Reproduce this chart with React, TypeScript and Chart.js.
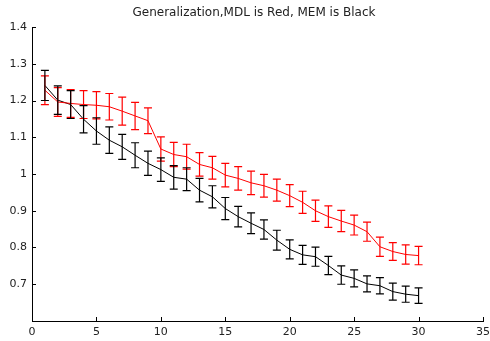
import React, { useEffect, useRef } from "react";
import { Chart, registerables } from "chart.js";

Chart.register(...registerables);

const titleText = "Generalization,MDL is Red, MEM is Black";

const iterations = [1, 2, 3, 4, 5, 6, 7, 8, 9, 10, 11, 12, 13, 14, 15, 16, 17, 18, 19, 20, 21, 22, 23, 24, 25, 26, 27, 28, 29, 30];

const mdlMean = [1.228, 1.196, 1.192, 1.189, 1.187, 1.183, 1.171, 1.158, 1.145, 1.068, 1.053, 1.047, 1.026, 1.017, 0.997, 0.988, 0.976, 0.968, 0.956, 0.941, 0.923, 0.9, 0.884, 0.872, 0.861, 0.843, 0.802, 0.789, 0.781, 0.778];
const mdlErr = [0.039, 0.039, 0.038, 0.038, 0.037, 0.036, 0.038, 0.037, 0.035, 0.033, 0.033, 0.034, 0.032, 0.031, 0.032, 0.032, 0.032, 0.031, 0.03, 0.03, 0.03, 0.029, 0.029, 0.029, 0.027, 0.026, 0.026, 0.024, 0.026, 0.025];

const memMean = [1.241, 1.201, 1.189, 1.149, 1.117, 1.092, 1.074, 1.051, 1.029, 1.012, 0.991, 0.986, 0.956, 0.938, 0.906, 0.884, 0.866, 0.849, 0.82, 0.795, 0.78, 0.775, 0.751, 0.725, 0.716, 0.701, 0.696, 0.68, 0.673, 0.669];
const memErr = [0.041, 0.039, 0.038, 0.037, 0.036, 0.036, 0.034, 0.034, 0.033, 0.032, 0.032, 0.031, 0.032, 0.03, 0.03, 0.028, 0.028, 0.026, 0.027, 0.026, 0.026, 0.026, 0.025, 0.025, 0.023, 0.022, 0.022, 0.023, 0.022, 0.021];

const xTicks = [0, 5, 10, 15, 20, 25, 30, 35];
const yTicks = [0.6, 0.7, 0.8, 0.9, 1.0, 1.1, 1.2, 1.3, 1.4];
const yLabelled = [0.7, 0.8, 0.9, 1.0, 1.1, 1.2, 1.3, 1.4];

const FONT = "'DejaVu Sans', 'Liberation Sans', Arial, sans-serif";

const errorBarPlugin = {
  id: "errorBars",
  afterDatasetsDraw(chart: any) {
    const ctx = chart.ctx;
    const xs = chart.scales.x;
    const ys = chart.scales.y;
    chart.data.datasets.forEach((ds: any) => {
      const errs = ds.errors;
      if (!errs) return;
      ctx.save();
      ctx.strokeStyle = ds.borderColor;
      ctx.lineWidth = 1.2;
      ds.data.forEach((p: any, i: number) => {
        const px = xs.getPixelForValue(p.x);
        const top = ys.getPixelForValue(p.y + errs[i]);
        const bot = ys.getPixelForValue(p.y - errs[i]);
        ctx.beginPath();
        ctx.moveTo(px, top);
        ctx.lineTo(px, bot);
        ctx.moveTo(px - 4, top);
        ctx.lineTo(px + 4, top);
        ctx.moveTo(px - 4, bot);
        ctx.lineTo(px + 4, bot);
        ctx.stroke();
      });
      ctx.restore();
    });
  },
};

const axisDecorPlugin = {
  id: "axisDecor",
  afterDraw(chart: any) {
    const ctx = chart.ctx;
    const xs = chart.scales.x;
    const ys = chart.scales.y;
    const area = chart.chartArea;
    ctx.save();
    ctx.strokeStyle = "#000";
    ctx.lineWidth = 1;
    ctx.beginPath();
    xTicks.forEach((t) => {
      const px = Math.round(xs.getPixelForValue(t)) + 0.5;
      ctx.moveTo(px, Math.round(area.bottom));
      ctx.lineTo(px, Math.round(area.bottom) - 4);
    });
    yTicks.forEach((t) => {
      const py = Math.round(ys.getPixelForValue(t)) + 0.5;
      ctx.moveTo(Math.round(area.left), py);
      ctx.lineTo(Math.round(area.left) + 4, py);
    });
    ctx.stroke();
    ctx.fillStyle = "#222";
    ctx.font = `12px ${FONT}`;
    ctx.textAlign = "center";
    ctx.textBaseline = "middle";
    ctx.fillText(titleText, 254, 13);
    ctx.restore();
  },
};

export default function App() {
  const ref = useRef<HTMLCanvasElement | null>(null);

  useEffect(() => {
    if (!ref.current) return;
    const chart = new Chart(ref.current, {
      type: "line",
      data: {
        datasets: [
          {
            label: "MDL",
            data: iterations.map((x, i) => ({ x, y: mdlMean[i] })),
            errors: mdlErr,
            borderColor: "#ff0000",
            borderWidth: 1,
            pointRadius: 0,
            tension: 0,
            fill: false,
          } as any,
          {
            label: "MEM",
            data: iterations.map((x, i) => ({ x, y: memMean[i] })),
            errors: memErr,
            borderColor: "#000000",
            borderWidth: 1,
            pointRadius: 0,
            tension: 0,
            fill: false,
          } as any,
        ],
      },
      options: {
        responsive: false,
        animation: false,
        layout: { padding: { left: 0, right: 7, top: 27, bottom: 0 } },
        plugins: {
          legend: { display: false },
          title: { display: false },
          tooltip: { enabled: false },
        },
        scales: {
          x: {
            type: "linear",
            min: 0,
            max: 35,
            afterBuildTicks: (s: any) => {
              s.ticks = xTicks.map((v) => ({ value: v }));
            },
            afterFit: (s: any) => {
              s.height = 20;
              s.paddingLeft = 0;
              s.paddingRight = 0;
            },
            grid: { display: false, drawTicks: false, tickLength: 0 },
            border: { display: true, color: "#000", width: 1 },
            ticks: {
              color: "#222",
              padding: 5,
              maxRotation: 0,
              autoSkip: false,
              font: { family: FONT, size: 11 },
              callback: (v: any) => String(v),
            },
          },
          y: {
            type: "linear",
            min: 0.6,
            max: 1.4,
            afterBuildTicks: (s: any) => {
              s.ticks = yTicks.map((v) => ({ value: v }));
            },
            afterFit: (s: any) => {
              s.width = 32;
              s.paddingTop = 0;
              s.paddingBottom = 0;
            },
            grid: { display: false, drawTicks: false, tickLength: 0 },
            border: { display: true, color: "#000", width: 1 },
            ticks: {
              color: "#222",
              padding: 5,
              autoSkip: false,
              font: { family: FONT, size: 11 },
              callback: (v: any) => {
                const n = Number(Number(v).toFixed(1));
                return yLabelled.some((t) => Math.abs(t - n) < 1e-6) ? String(n) : "";
              },
            },
          },
        },
      },
      plugins: [errorBarPlugin, axisDecorPlugin],
    } as any);
    return () => chart.destroy();
  }, []);

  return (
    <div style={{ position: "absolute", left: 0, top: 0, width: 490, height: 341, background: "#fff" }}>
      <canvas ref={ref} width={490} height={341} style={{ display: "block" }} />
    </div>
  );
}
